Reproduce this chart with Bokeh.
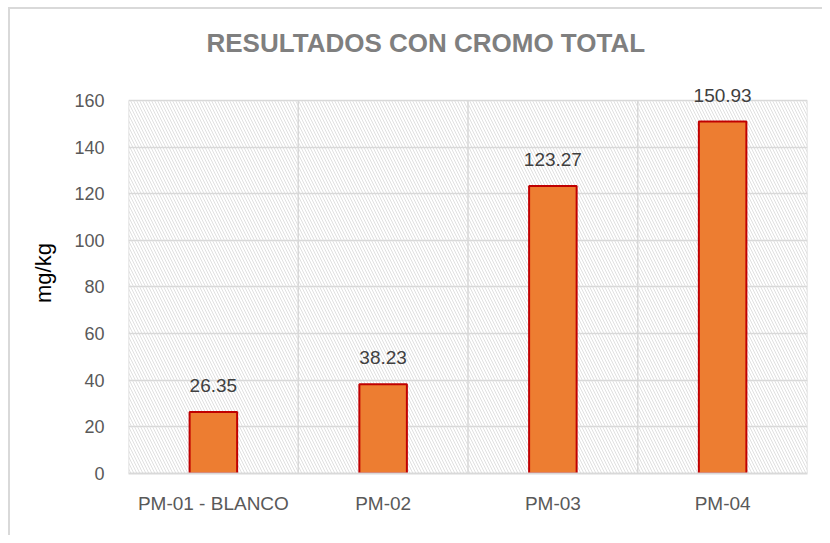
from bokeh.plotting import figure
from bokeh.models import FixedTicker, BoxAnnotation, ColumnDataSource, LabelSet, Range1d
from bokeh.core.properties import value
from bokeh.embed import file_html
from bokeh.resources import INLINE

categories = ["PM-01 - BLANCO", "PM-02", "PM-03", "PM-04"]
values = [26.35, 38.23, 123.27, 150.93]
value_labels = ["26.35", "38.23", "123.27", "150.93"]
y_ticks = [0, 20, 40, 60, 80, 100, 120, 140, 160]
y_headroom = 172  # top of the drawing area, leaves room for the value labels

FONT = "Liberation Sans"
GRID = "#D9D9D9"

n = len(categories)
xs = [i + 0.5 for i in range(n)]
bounds = list(range(n + 1))
src = ColumnDataSource(dict(x=xs, top=values, lab=value_labels))

p = figure(width=822, height=535, output_backend="svg", toolbar_location=None,
           x_range=Range1d(0, n), y_range=Range1d(0, y_headroom),
           min_border_left=128, min_border_right=15, min_border_top=72, min_border_bottom=62)
p.styles = {"background-color": "white",
            "box-shadow": "inset 8px 7px 0 0 white, inset 10px 9px 0 0 #D9D9D9"}

p.title.text = "RESULTADOS CON CROMO TOTAL"
p.title.text_font = FONT
p.title.text_font_style = "bold"
p.title.text_font_size = "26px"
p.title.text_color = "#7F7F7F"
p.title.align = "left"
p.title.offset = 78
p.title.standoff = 30

p.background_fill_color = None
p.border_fill_color = None
p.outline_line_color = None

hatch = BoxAnnotation(left=0, right=n, bottom=y_ticks[0], top=y_ticks[-1],
                      fill_color="white", fill_alpha=1.0, line_color=None,
                      hatch_pattern="\\", hatch_color="#E0E0E0", hatch_scale=6,
                      hatch_weight=1, level="image")
p.add_layout(hatch)

# vertical grid lines at the category boundaries, only up to the top tick
p.segment(x0=bounds, y0=[y_ticks[0]] * len(bounds), x1=bounds, y1=[y_ticks[-1]] * len(bounds),
          line_color=GRID, line_width=1.5)

p.vbar(x="x", top="top", width=0.28, source=src, fill_color="#ED7D31",
       line_color="#C00000", line_width=2)

labels = LabelSet(x="x", y="top", text="lab", source=src, text_align="center",
                  text_baseline="bottom", y_offset=20, text_font_size=value("19px"),
                  text_color=value("#404040"), text_font=value(FONT), level="overlay")
p.add_layout(labels)

p.xaxis.ticker = FixedTicker(ticks=xs)
p.xaxis.major_label_overrides = {x: c for x, c in zip(xs, categories)}
p.xaxis.major_label_text_font = FONT
p.xaxis.major_label_text_font_size = "19px"
p.xaxis.major_label_text_color = "#595959"
p.xaxis.major_label_standoff = 13
p.xaxis.axis_line_color = GRID
p.xaxis.axis_line_width = 2
p.xaxis.major_tick_line_color = None
p.xaxis.minor_tick_line_color = None

p.yaxis.ticker = FixedTicker(ticks=y_ticks)
p.yaxis.major_label_text_font = FONT
p.yaxis.major_label_text_font_size = "18px"
p.yaxis.major_label_text_color = "#595959"
p.yaxis.major_label_standoff = 18
p.yaxis.axis_line_color = None
p.yaxis.major_tick_line_color = None
p.yaxis.minor_tick_line_color = None
p.yaxis.axis_label = "mg/kg"
p.yaxis.axis_label_text_font = FONT
p.yaxis.axis_label_text_font_size = "22px"
p.yaxis.axis_label_text_font_style = "normal"
p.yaxis.axis_label_text_color = "black"
p.yaxis.axis_label_standoff = 15

p.xgrid.grid_line_color = None
p.ygrid.ticker = FixedTicker(ticks=y_ticks)
p.ygrid.grid_line_color = GRID
p.ygrid.grid_line_width = 1.5

open("out.html", "w").write(file_html(p, INLINE))
